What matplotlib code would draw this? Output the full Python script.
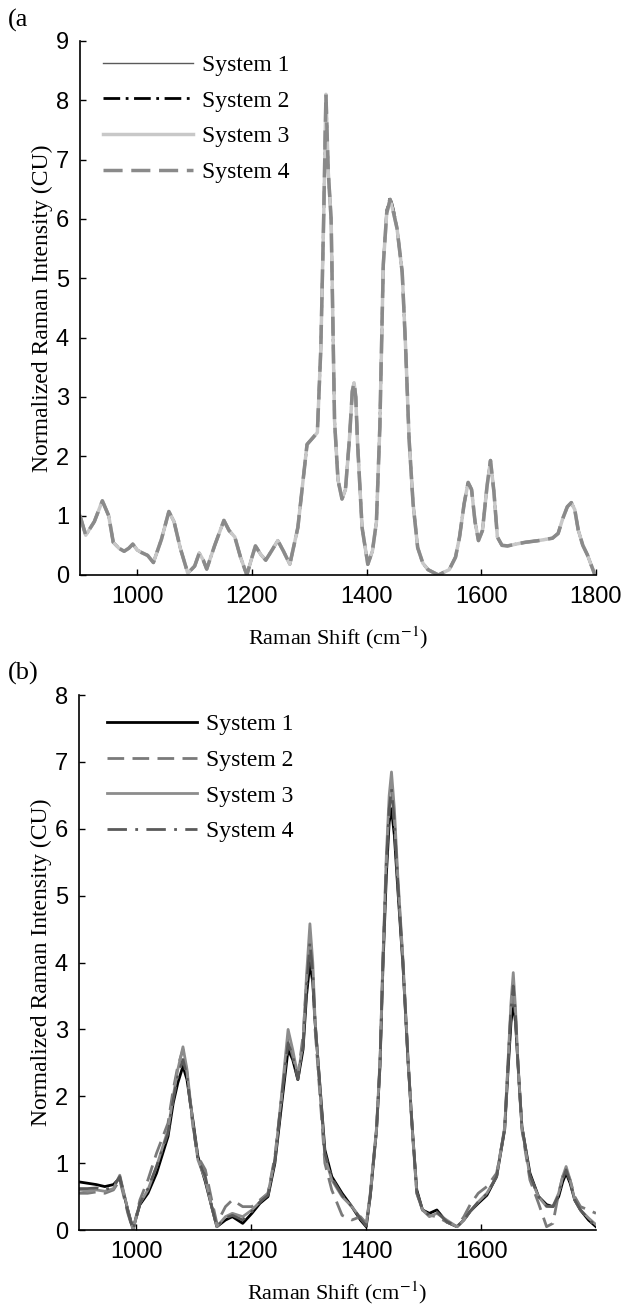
#!/usr/bin/env python
# Raman spectra of the same sample measured on four systems, panels (a) and (b)
import matplotlib

matplotlib.use("Agg")
import matplotlib.pyplot as plt

plt.rcParams["font.family"] = ["Liberation Serif", "DejaVu Serif"]
plt.rcParams["mathtext.fontset"] = "stix"

# panel (a): the four systems lie on top of each other
shift_a = [900, 910, 925, 939, 950, 958, 968, 977, 985, 992, 1000, 1007, 1018,
           1028, 1042, 1055, 1064, 1075, 1088, 1100, 1108, 1115, 1121, 1135,
           1151, 1160, 1170, 1180, 1191, 1200, 1206, 1215, 1224, 1235, 1245,
           1255, 1266, 1280, 1296, 1305, 1314, 1320, 1325, 1329, 1333, 1338,
           1344, 1350, 1357, 1363, 1370, 1375, 1378, 1381, 1384, 1392, 1402,
           1410, 1417, 1423, 1429, 1435, 1441, 1447, 1453, 1462, 1468, 1474,
           1481, 1489, 1498, 1507, 1525, 1544, 1555, 1562, 1570, 1577, 1583,
           1589, 1595, 1602, 1610, 1616, 1622, 1628, 1636, 1646, 1660, 1676,
           1700, 1724, 1734, 1742, 1750, 1757, 1763, 1769, 1777, 1785, 1797,
           1800]
spec_a = [1.0, 0.67, 0.9, 1.25, 1.0, 0.55, 0.45, 0.4, 0.45, 0.52, 0.42, 0.38,
          0.33, 0.21, 0.6, 1.07, 0.9, 0.45, 0.03, 0.15, 0.37, 0.25, 0.1, 0.5,
          0.92, 0.75, 0.64, 0.3, 0.0, 0.3, 0.49, 0.35, 0.25, 0.42, 0.58, 0.4,
          0.18, 0.8, 2.2, 2.3, 2.4, 3.8, 6.0, 8.1, 6.8, 6.0, 2.6, 1.6, 1.28,
          1.44, 2.3, 3.1, 3.24, 3.0, 2.25, 0.8, 0.18, 0.4, 0.89, 2.5, 5.23,
          6.1, 6.33, 6.1, 5.84, 5.1, 3.82, 2.29, 1.2, 0.46, 0.2, 0.09, 0.0,
          0.09, 0.3, 0.64, 1.2, 1.56, 1.44, 0.9, 0.58, 0.75, 1.5, 1.93, 1.4,
          0.64, 0.5, 0.49, 0.52, 0.55, 0.58, 0.62, 0.7, 0.95, 1.15, 1.22, 1.1,
          0.76, 0.5, 0.34, 0.03, 0.0]
# system 2 peaks a touch higher at 1440 in the reference
spec_a2 = [v + 0.04 if 1435 <= x <= 1447 else v for x, v in zip(shift_a, spec_a)]

# panel (b): four systems, slightly different
shift_b = [900, 915, 930, 945, 960, 971, 985, 994, 1006, 1020, 1035, 1055,
           1064, 1072, 1081, 1088, 1093, 1099, 1107, 1120, 1131, 1140, 1155,
           1167, 1185, 1201, 1215, 1229, 1241, 1253, 1264, 1272, 1281, 1290,
           1296, 1302, 1307, 1311, 1320, 1328, 1340, 1358, 1375, 1390, 1400,
           1407, 1418, 1424, 1429, 1435, 1440, 1444, 1449, 1455, 1464, 1473,
           1480, 1488, 1498, 1510, 1523, 1540, 1558, 1570, 1581, 1595, 1610,
           1627, 1641, 1647, 1652, 1656, 1660, 1664, 1671, 1685, 1700, 1714,
           1725, 1735, 1742, 1748, 1755, 1763, 1773, 1787, 1800]
sys1_b = [0.72, 0.7, 0.68, 0.65, 0.68, 0.78, 0.3, 0.02, 0.38, 0.55, 0.85, 1.4,
          1.9, 2.2, 2.45, 2.25, 1.95, 1.6, 1.1, 0.72, 0.35, 0.05, 0.15, 0.2,
          0.1, 0.25, 0.4, 0.5, 1.0, 1.9, 2.7, 2.55, 2.25, 2.7, 3.5, 4.0, 3.7,
          3.1, 2.1, 1.2, 0.8, 0.55, 0.35, 0.15, 0.05, 0.5, 1.5, 2.45, 3.9, 5.3,
          6.1, 6.3, 5.9, 5.1, 3.95, 2.5, 1.55, 0.6, 0.3, 0.25, 0.3, 0.12, 0.05,
          0.15, 0.28, 0.4, 0.52, 0.8, 1.5, 2.4, 3.1, 3.4, 3.1, 2.5, 1.55, 0.85,
          0.5, 0.38, 0.35, 0.5, 0.72, 0.85, 0.7, 0.45, 0.3, 0.15, 0.05]
sys2_b = [0.55, 0.55, 0.57, 0.55, 0.6, 0.75, 0.25, 0.0, 0.45, 0.75, 1.15, 1.6,
          2.1, 2.45, 2.7, 2.35, 1.95, 1.5, 1.1, 0.9, 0.45, 0.1, 0.35, 0.45,
          0.35, 0.35, 0.45, 0.55, 1.1, 2.0, 2.85, 2.6, 2.3, 2.9, 3.7, 4.3, 3.8,
          3.0, 1.95, 1.0, 0.6, 0.22, 0.15, 0.2, 0.1, 0.5, 1.5, 2.5, 4.0, 5.5,
          6.3, 6.6, 6.1, 5.2, 4.0, 2.5, 1.5, 0.55, 0.3, 0.22, 0.2, 0.12, 0.05,
          0.2, 0.38, 0.55, 0.65, 0.85, 1.5, 2.5, 3.3, 3.6, 3.2, 2.5, 1.5, 0.75,
          0.4, 0.05, 0.1, 0.55, 0.8, 0.9, 0.75, 0.5, 0.35, 0.3, 0.25]
sys3_b = [0.6, 0.58, 0.6, 0.58, 0.62, 0.82, 0.3, 0.0, 0.4, 0.6, 0.95, 1.5,
          2.0, 2.4, 2.74, 2.4, 2.0, 1.55, 1.05, 0.75, 0.35, 0.05, 0.2, 0.25,
          0.2, 0.3, 0.42, 0.55, 1.05, 2.05, 3.0, 2.7, 2.3, 2.8, 3.8, 4.58, 4.0,
          3.14, 2.05, 1.1, 0.75, 0.5, 0.35, 0.18, 0.08, 0.55, 1.54, 2.54, 4.04,
          5.6, 6.5, 6.85, 6.3, 5.3, 4.04, 2.54, 1.54, 0.55, 0.3, 0.2, 0.25,
          0.15, 0.05, 0.15, 0.28, 0.42, 0.55, 0.8, 1.54, 2.54, 3.4, 3.85, 3.3,
          2.54, 1.54, 0.8, 0.5, 0.35, 0.35, 0.55, 0.8, 0.95, 0.75, 0.45, 0.3,
          0.18, 0.08]
sys4_b = [0.62, 0.62, 0.63, 0.6, 0.65, 0.8, 0.28, 0.0, 0.4, 0.62, 0.95, 1.45,
          1.95, 2.3, 2.55, 2.3, 1.95, 1.55, 1.05, 0.8, 0.35, 0.05, 0.18, 0.22,
          0.15, 0.28, 0.42, 0.52, 1.05, 2.0, 2.8, 2.6, 2.25, 2.75, 3.6, 4.3,
          3.85, 3.1, 2.05, 1.15, 0.78, 0.52, 0.35, 0.17, 0.06, 0.52, 1.52, 2.5,
          4.0, 5.45, 6.3, 6.6, 6.1, 5.2, 4.0, 2.52, 1.54, 0.57, 0.3, 0.22, 0.27,
          0.13, 0.05, 0.15, 0.28, 0.42, 0.54, 0.8, 1.52, 2.5, 3.3, 3.65, 3.2,
          2.52, 1.55, 0.82, 0.5, 0.36, 0.35, 0.52, 0.76, 0.9, 0.72, 0.45, 0.3,
          0.16, 0.06]

labels = ["System 1", "System 2", "System 3", "System 4"]
FS = 17


def style_axes(ax, ymax, xticks):
    ax.set_xlim(900, 1800)
    ax.set_ylim(0, ymax)
    ax.set_xticks(xticks)
    ax.set_yticks(range(0, ymax + 1))
    for side in ("top", "right"):
        ax.spines[side].set_visible(False)
    for side in ("left", "bottom"):
        ax.spines[side].set_linewidth(1.2)
    ax.tick_params(direction="in", length=4, width=1, pad=8, labelsize=FS)
    for lab in ax.get_xticklabels() + ax.get_yticklabels():
        lab.set_family("Liberation Sans")
    ax.set_xlabel("Raman Shift (cm$^{-1}$)", fontsize=16, labelpad=12)
    ax.set_ylabel("Normalized Raman Intensity (CU)", fontsize=17, labelpad=2)


fig = plt.figure(figsize=(6.24, 13.08), dpi=100)
ax_a = fig.add_axes([0.1282, 0.5604, 0.8269, 0.4083])
ax_b = fig.add_axes([0.1266, 0.0596, 0.8285, 0.4090])

ax_a.plot(shift_a, spec_a, color="#5a5a5a", lw=1.0, label=labels[0])
ax_a.plot(shift_a, spec_a2, color="black", lw=2.0, ls=(0, (6, 2, 1, 2)), label=labels[1])
ax_a.plot(shift_a, spec_a, color="#c8c8c8", lw=2.5, label=labels[2])
ax_a.plot(shift_a, spec_a, color="#8a8a8a", lw=2.5, ls=(0, (5.5, 2.5)), label=labels[3])
style_axes(ax_a, 9, [1000, 1200, 1400, 1600, 1800])
ax_a.legend(loc="upper left", bbox_to_anchor=(0.045, 0.975), frameon=False,
            fontsize=FS, handlelength=3.8, handletextpad=0.4, labelspacing=0.6,
            borderpad=0, borderaxespad=0)

ax_b.plot(shift_b, sys1_b, color="black", lw=2.0, label=labels[0])
ax_b.plot(shift_b, sys2_b, color="#7a7a7a", lw=2.0, ls=(0, (6, 3)), label=labels[1])
ax_b.plot(shift_b, sys3_b, color="#8c8c8c", lw=2.0, label=labels[2])
ax_b.plot(shift_b, sys4_b, color="#5a5a5a", lw=2.0, ls=(0, (7, 3, 1, 3)), label=labels[3])
style_axes(ax_b, 8, [1000, 1200, 1400, 1600])
ax_b.legend(loc="upper left", bbox_to_anchor=(0.054, 0.965), frameon=False,
            fontsize=FS, handlelength=3.8, handletextpad=0.4, labelspacing=0.6,
            borderpad=0, borderaxespad=0)

fig.text(0.012, 0.9845, "(a", fontsize=FS + 2, va="center", ha="left")
fig.text(0.012, 1 - 673 / 1308, "(b)", fontsize=FS + 2, va="center", ha="left")

fig.savefig("out.png", dpi=100)
